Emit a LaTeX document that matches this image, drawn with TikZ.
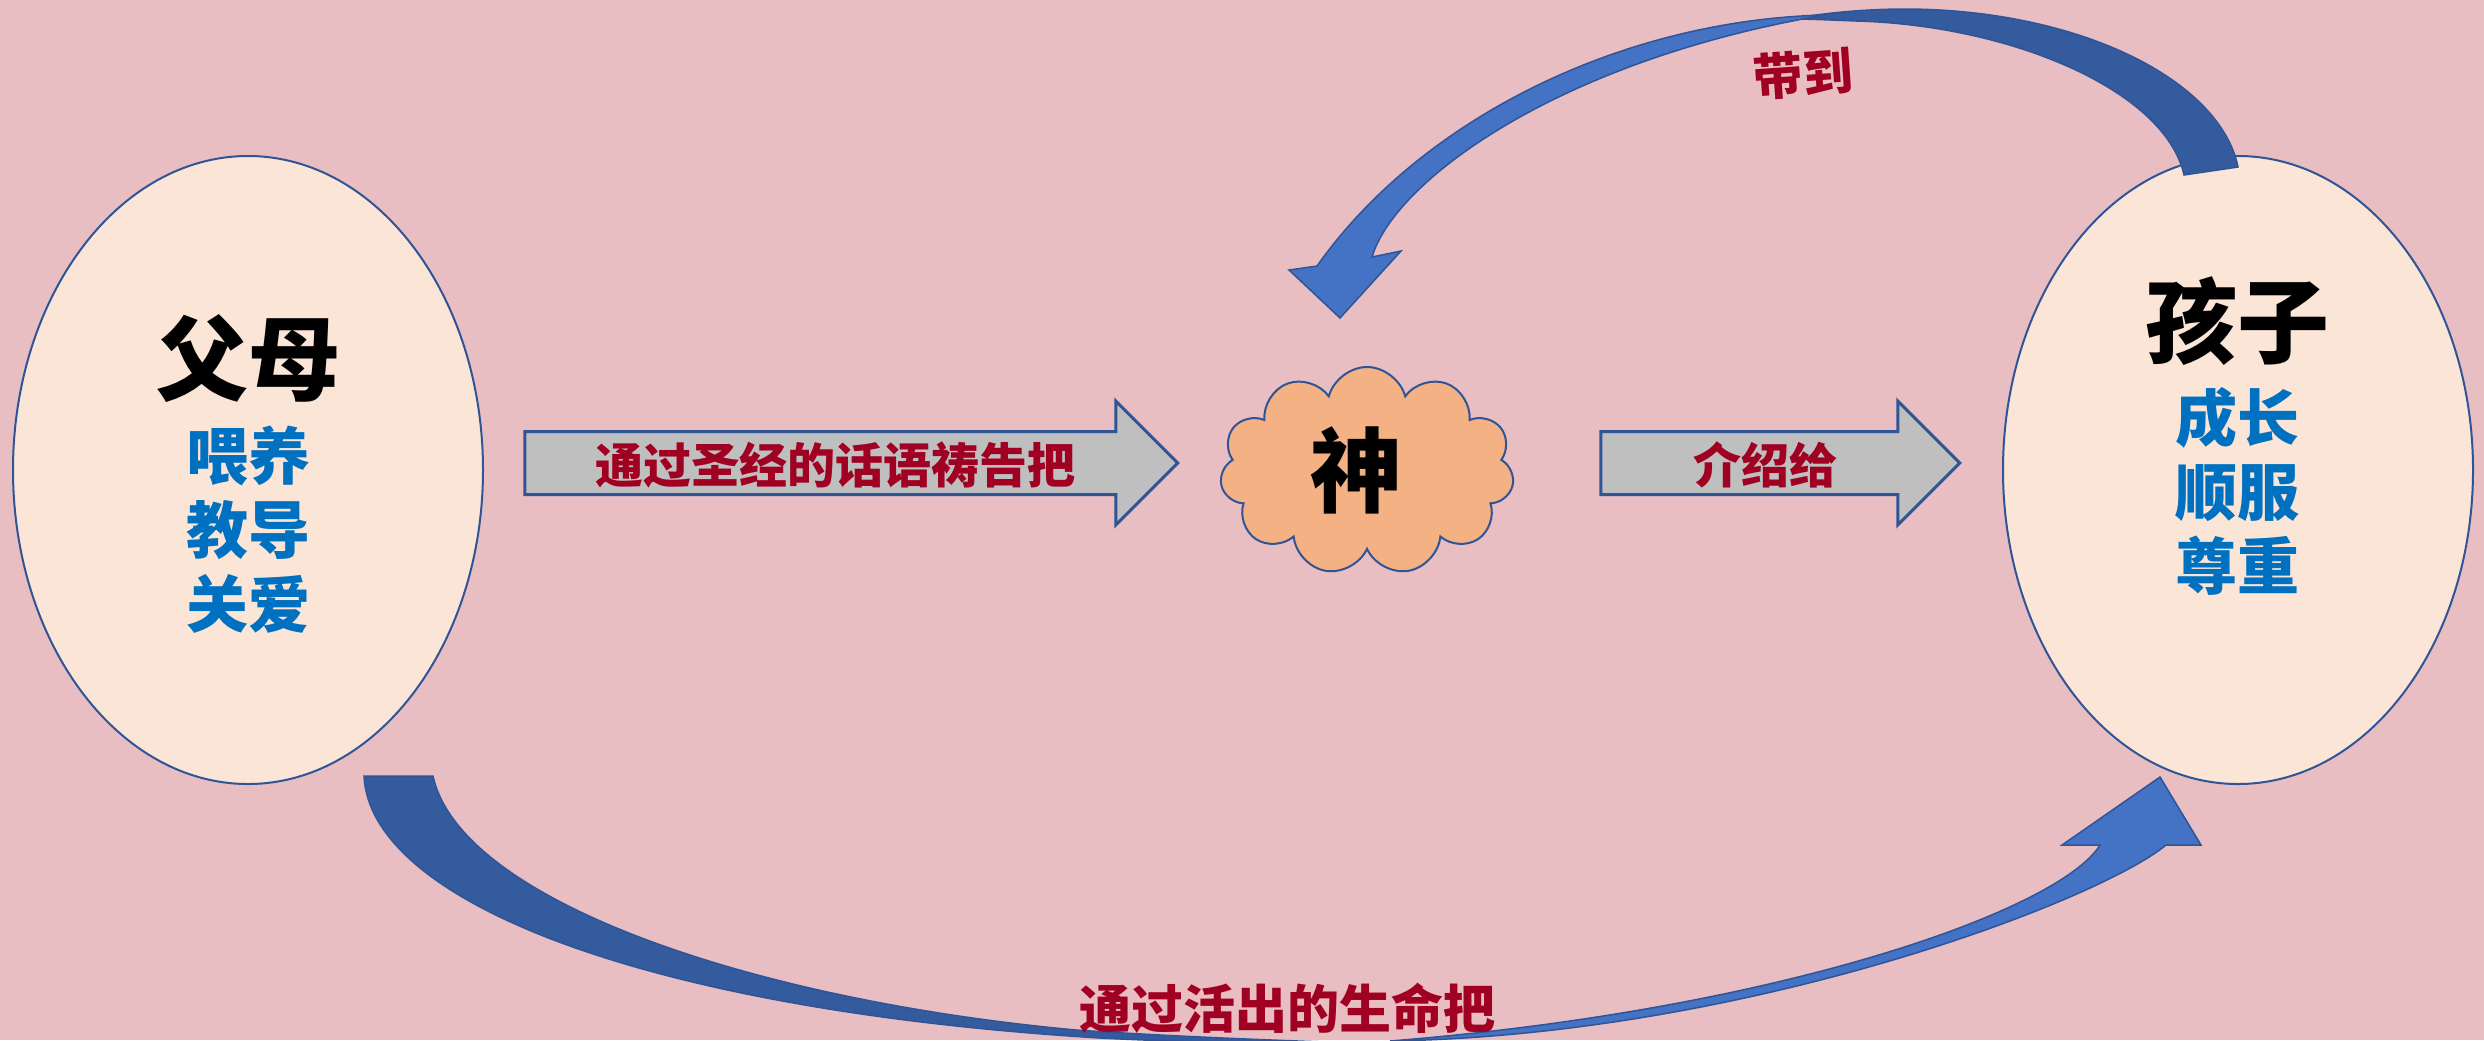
\documentclass[tikz,border=0pt]{standalone}
\usepackage{fontspec}
\setmainfont{Noto Sans CJK SC}
\usetikzlibrary{shapes.geometric,shapes.symbols,shapes.arrows}

\definecolor{paper}{RGB}{232,190,194}
\definecolor{peach}{RGB}{251,229,214}
\definecolor{rim}{RGB}{47,85,151}
\definecolor{cloudfill}{RGB}{244,177,131}
\definecolor{barfill}{RGB}{191,191,191}
\definecolor{wordred}{RGB}{160,0,33}
\definecolor{itemblue}{RGB}{0,112,192}
\definecolor{arcdark}{RGB}{51,91,158}
\definecolor{arclight}{RGB}{68,114,196}

\tikzset{every picture/.style={line width=0.75pt}}
\tikzset{
  oval/.style={ellipse, draw=rim, line width=1pt, fill=peach, minimum width=235pt, minimum height=314pt},
  title/.style={font=\fontsize{46}{46}\selectfont\bfseries},
  items/.style={font=\fontsize{31}{37}\selectfont\bfseries, text=itemblue, align=center},
  bar/.style={single arrow, draw=rim, line width=1.5pt, fill=barfill, inner xsep=0pt, inner ysep=15pt, single arrow head extend=15.25pt},
  lbl/.style={font=\fontsize{24}{24}\selectfont\bfseries, text=wordred},
  puff/.style={cloud, cloud puffs=11, cloud ignores aspect, draw=rim, line width=1pt, fill=cloudfill, minimum width=147pt, minimum height=104pt},
  arcback/.style={fill=arcdark, draw=rim, line width=0.75pt},
  arcfront/.style={fill=arclight, draw=rim, line width=0.75pt}
}

\begin{document}
\begin{tikzpicture}[x=0.5pt,y=0.5pt,yscale=-1,xscale=1]
%background paper
\fill[paper] (0,0) rectangle (2484,1040);
\useasboundingbox (0,0) rectangle (2484,1040);

%Ellipses
\node[oval] (parents) at (248,470) {};
\node[oval] (child) at (2238,470) {};

% Text Node
\node[title] (ptitle) at (248,359) {父母};
\node[items] (pitems) at (248,530) {喂养\\教导\\关爱};
\node[title] (ctitle) at (2237,321) {孩子};
\node[items] (citems) at (2237,491) {成长\\顺服\\尊重};

%Cloud
\node[puff] (god) at (1367,471) {};
\node[title] (gname) at (1356,470) {神};

%Block arrows
\node[bar, minimum height=326.5pt] (word) at (835.5,463) {};
\node[lbl] (wordtext) at (835,465) {通过圣经的话语祷告把};
\node[bar, minimum height=179.5pt] (intro) at (1764.5,463) {};
\node[lbl] (introtext) at (1765,465) {介绍给};

%Curved arrow, top
\draw[arcback] (2184,175) .. controls (2165,90) and (2010,25) .. (1856,21) .. controls (1830,20) and (1810,19) .. (1790,19) .. controls (1830,12) and (1870,9) .. (1907,9) .. controls (2080,10) and (2220,80) .. (2238,167) -- cycle;
\draw[arcfront] (1825,15) .. controls (1620,20) and (1420,120) .. (1317,266) -- (1289,270) -- (1340,318) -- (1401,251) -- (1372,257) .. controls (1395,180) and (1560,60) .. cycle;
\node[lbl, font=\fontsize{25}{25}\selectfont\bfseries, rotate=4] (bring) at (1803,74) {带到};

%Curved arrow, bottom
\draw[arcback] (364,776) .. controls (370,900) and (640,1010) .. (1100,1038) .. controls (1200,1043) and (1300,1045) .. (1420,1045) .. controls (1250,1040) and (1150,1035) .. (1076,1030) .. controls (750,1000) and (460,900) .. (433,776) -- cycle;
\draw[arcfront] (1390,1041) .. controls (1750,1035) and (2100,900) .. (2166,845) -- (2201,845) -- (2160,777) -- (2062,845) -- (2100,845) .. controls (2060,910) and (1780,1010) .. cycle;
\node[lbl, font=\fontsize{26}{26}\selectfont\bfseries] (life) at (1287,1008) {通过活出的生命把};

\end{tikzpicture}
\end{document}
